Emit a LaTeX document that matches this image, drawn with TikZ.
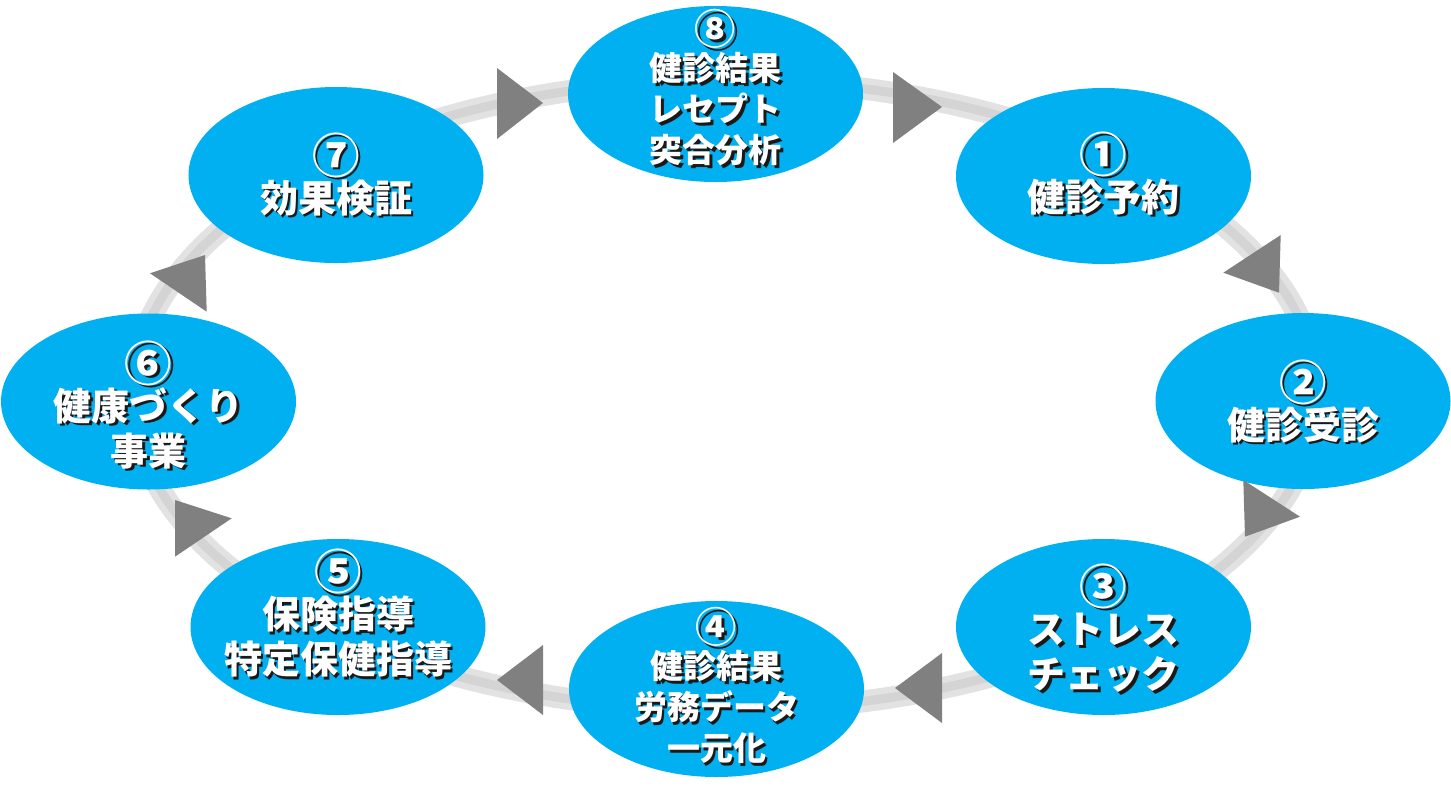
\documentclass[tikz,border=0pt]{standalone}
\usepackage{fontspec}
\usepackage{graphicx}
\setmainfont{Noto Sans CJK JP}
\usetikzlibrary{shapes.geometric}
\definecolor{cyanfill}{RGB}{0,176,240}
\definecolor{arrowgray}{RGB}{128,128,128}
\definecolor{ringouter}{RGB}{226,226,226}
\definecolor{ringinner}{RGB}{212,212,212}
\newcommand\shd[1]{\makebox[0pt][l]{\hspace{2.5pt}\raisebox{-2.5pt}{\color{black!90}#1}}#1}
\newcommand\cnum[1]{\smash{\raisebox{-0.15em}{\scalebox{1.25}{#1}}}}
\begin{document}
\begin{tikzpicture}[x=1pt,y=-1pt,
  bubble/.style={ellipse, fill=cyanfill, minimum width=295pt, minimum height=176pt, inner sep=0pt},
  bigtxt/.style={text=white, align=center, font=\bfseries\fontsize{38}{45}\selectfont, inner sep=0pt},
  smalltxt/.style={text=white, align=center, font=\bfseries\fontsize{33}{41}\selectfont, inner sep=0pt},
  tri/.style={fill=arrowgray}]
\useasboundingbox (0,0) rectangle (1451,788);
% ring
\draw[ringouter, line width=22pt] (725,395) ellipse [x radius=592, y radius=315];
\draw[ringinner, line width=9pt] (725,395) ellipse [x radius=592, y radius=315];
% bubbles
\node[bubble] (e1) at (1103.5,176) {};
\node[bubble] (e2) at (1303,401) {};
\node[bubble] (e3) at (1103.5,627) {};
\node[bubble] (e4) at (716.5,689) {};
\node[bubble] (e5) at (338,627) {};
\node[bubble] (e6) at (148.5,401.5) {};
\node[bubble] (e7) at (336,175) {};
\node[bubble] (e8) at (715.5,94) {};
% texts
\node[bigtxt, yshift=-16pt] (t1) at (e1) {\shd{\cnum{①}}\\\shd{健診予約}};
\node[bigtxt, yshift=-19pt] (t2) at (e2) {\shd{\cnum{②}}\\\shd{健診受診}};
\node[bigtxt, yshift=-20pt] (t3) at (e3) {\shd{\cnum{③}}\\\shd{ストレス}\\\shd{チェック}};
\node[smalltxt, yshift=-13pt] (t4) at (e4) {\shd{\cnum{④}}\\\shd{健診結果}\\\shd{労務データ}\\\shd{一元化}};
\node[bigtxt, yshift=-5pt] (t5) at (e5) {\shd{\cnum{⑤}}\\\shd{保険指導}\\\shd{特定保健指導}};
\node[bigtxt, yshift=-22pt] (t6) at (e6) {\shd{\cnum{⑥}}\\\shd{健康づくり}\\\shd{事業}};
\node[bigtxt, yshift=-18pt] (t7) at (e7) {\shd{\cnum{⑦}}\\\shd{効果検証}};
\node[smalltxt, yshift=-10pt] (t8) at (e8) {\shd{\cnum{⑧}}\\\shd{健診結果}\\\shd{レセプト}\\\shd{突合分析}};
% arrowheads on the ring
\fill[tri] (497,68) -- (543,103) -- (497,139) -- cycle;
\fill[tri] (893,72) -- (942,107) -- (893,143) -- cycle;
\fill[tri] (1280.7,235) -- (1279,292.7) -- (1223.3,272.7) -- cycle;
\fill[tri] (1243.3,480) -- (1300,516.7) -- (1245,536.7) -- cycle;
\fill[tri] (942,653) -- (895,688) -- (942,723) -- cycle;
\fill[tri] (543,645) -- (497,680) -- (543,715) -- cycle;
\fill[tri] (175,556.7) -- (231.7,518.3) -- (175,500) -- cycle;
\fill[tri] (150,273.3) -- (206.7,311.7) -- (205,255) -- cycle;
\end{tikzpicture}
\end{document}
